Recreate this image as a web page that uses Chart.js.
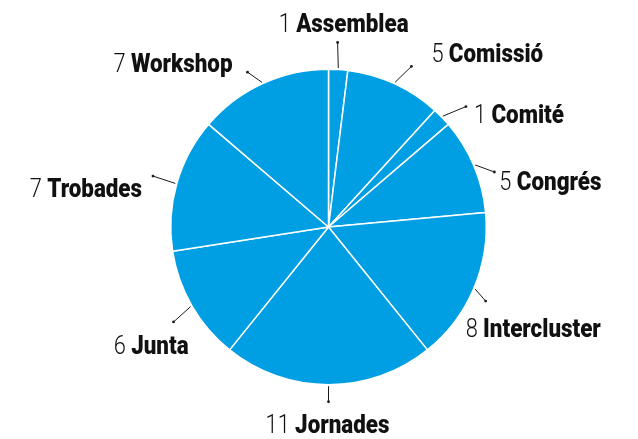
<!DOCTYPE html>
<html>
<head>
<meta charset="utf-8">
<script src="https://cdn.jsdelivr.net/npm/chart.js@4"></script>
<style>
  html, body { margin: 0; padding: 0; background: #fff; }
</style>
</head>
<body>
<canvas id="reunions" width="638" height="439"></canvas>
<script>
const categories = ["Assemblea", "Comissió", "Comité", "Congrés", "Intercluster", "Jornades", "Junta", "Trobades", "Workshop"];
const counts = [1, 5, 1, 5, 8, 11, 6, 7, 7];

// hand placement of the callouts: angle shift (deg), dot distance past the rim,
// text offset from the dot (x, baseline) and alignment
const calloutShift = [-0.7, 2.6, 2.9, 4.6, 2.3, 0, -1.5, 0.3, -2.9];
const calloutReach = [27, 23, 25, 17, 16, 17, 24, 25, 17];
const calloutDx = [6, 20, 8, 5, -20, -1, 15, -11, -15];
const calloutDy = [-10, -4, 16, 18, 36, 31, 32, 21, 0];
const calloutAlign = ["center", "left", "left", "left", "left", "center", "right", "right", "right"];

// no condensed face installed, so squeeze Roboto sideways
const numSqueeze = 0.84;
const nameSqueeze = 0.86;

const calloutPlugin = {
  id: "callouts",
  afterDatasetsDraw(chart) {
    const ctx = chart.ctx;
    const arcs = chart.getDatasetMeta(0).data;
    ctx.save();
    arcs.forEach(function (arc, i) {
      const cx = arc.x, cy = arc.y, r = arc.outerRadius;
      const mid = (arc.startAngle + arc.endAngle) / 2;
      const dotA = mid + calloutShift[i] * Math.PI / 180;
      const x0 = cx + Math.cos(mid) * (r + 1.5);
      const y0 = cy + Math.sin(mid) * (r + 1.5);
      const x1 = cx + Math.cos(dotA) * (r + calloutReach[i]);
      const y1 = cy + Math.sin(dotA) * (r + calloutReach[i]);

      ctx.strokeStyle = "#1a1a1a";
      ctx.lineWidth = 1;
      ctx.beginPath();
      ctx.moveTo(x0, y0);
      ctx.lineTo(x1, y1);
      ctx.stroke();
      ctx.fillStyle = "#1a1a1a";
      ctx.beginPath();
      ctx.arc(x1, y1, 1.4, 0, Math.PI * 2);
      ctx.fill();

      const num = String(counts[i]);
      const name = categories[i];
      ctx.font = "300 26px Roboto";
      const numW = ctx.measureText(num).width * numSqueeze;
      const gap = ctx.measureText(" ").width * numSqueeze;
      ctx.font = "900 26px Roboto";
      const nameW = ctx.measureText(name).width * nameSqueeze;
      const total = numW + gap + nameW;

      let tx = x1 + calloutDx[i];
      if (calloutAlign[i] === "center") tx -= total / 2;
      else if (calloutAlign[i] === "right") tx -= total;
      const ty = y1 + calloutDy[i];

      ctx.textBaseline = "alphabetic";
      ctx.textAlign = "left";
      ctx.fillStyle = "#111";

      ctx.save();
      ctx.translate(tx, ty);
      ctx.scale(numSqueeze, 1);
      ctx.font = "300 26px Roboto";
      ctx.fillText(num, 0, 0);
      ctx.restore();

      ctx.save();
      ctx.translate(tx + numW + gap, ty);
      ctx.scale(nameSqueeze, 1);
      ctx.font = "900 26px Roboto";
      ctx.fillText(name, 0, 0);
      ctx.restore();
    });
    ctx.restore();
  }
};

new Chart(document.getElementById("reunions"), {
  type: "pie",
  data: {
    labels: categories,
    datasets: [
      {
        data: counts,
        backgroundColor: "#009fe3",
        borderColor: "#ffffff",
        borderWidth: 1.5,
        hoverBorderWidth: 1.5,
      },
    ],
  },
  options: {
    responsive: false,
    animation: false,
    layout: {
      padding: { left: 170, right: 151, top: 68, bottom: 53 },
    },
    plugins: {
      legend: { display: false },
      tooltip: { enabled: false },
    },
  },
  plugins: [calloutPlugin],
});
</script>
</body>
</html>
